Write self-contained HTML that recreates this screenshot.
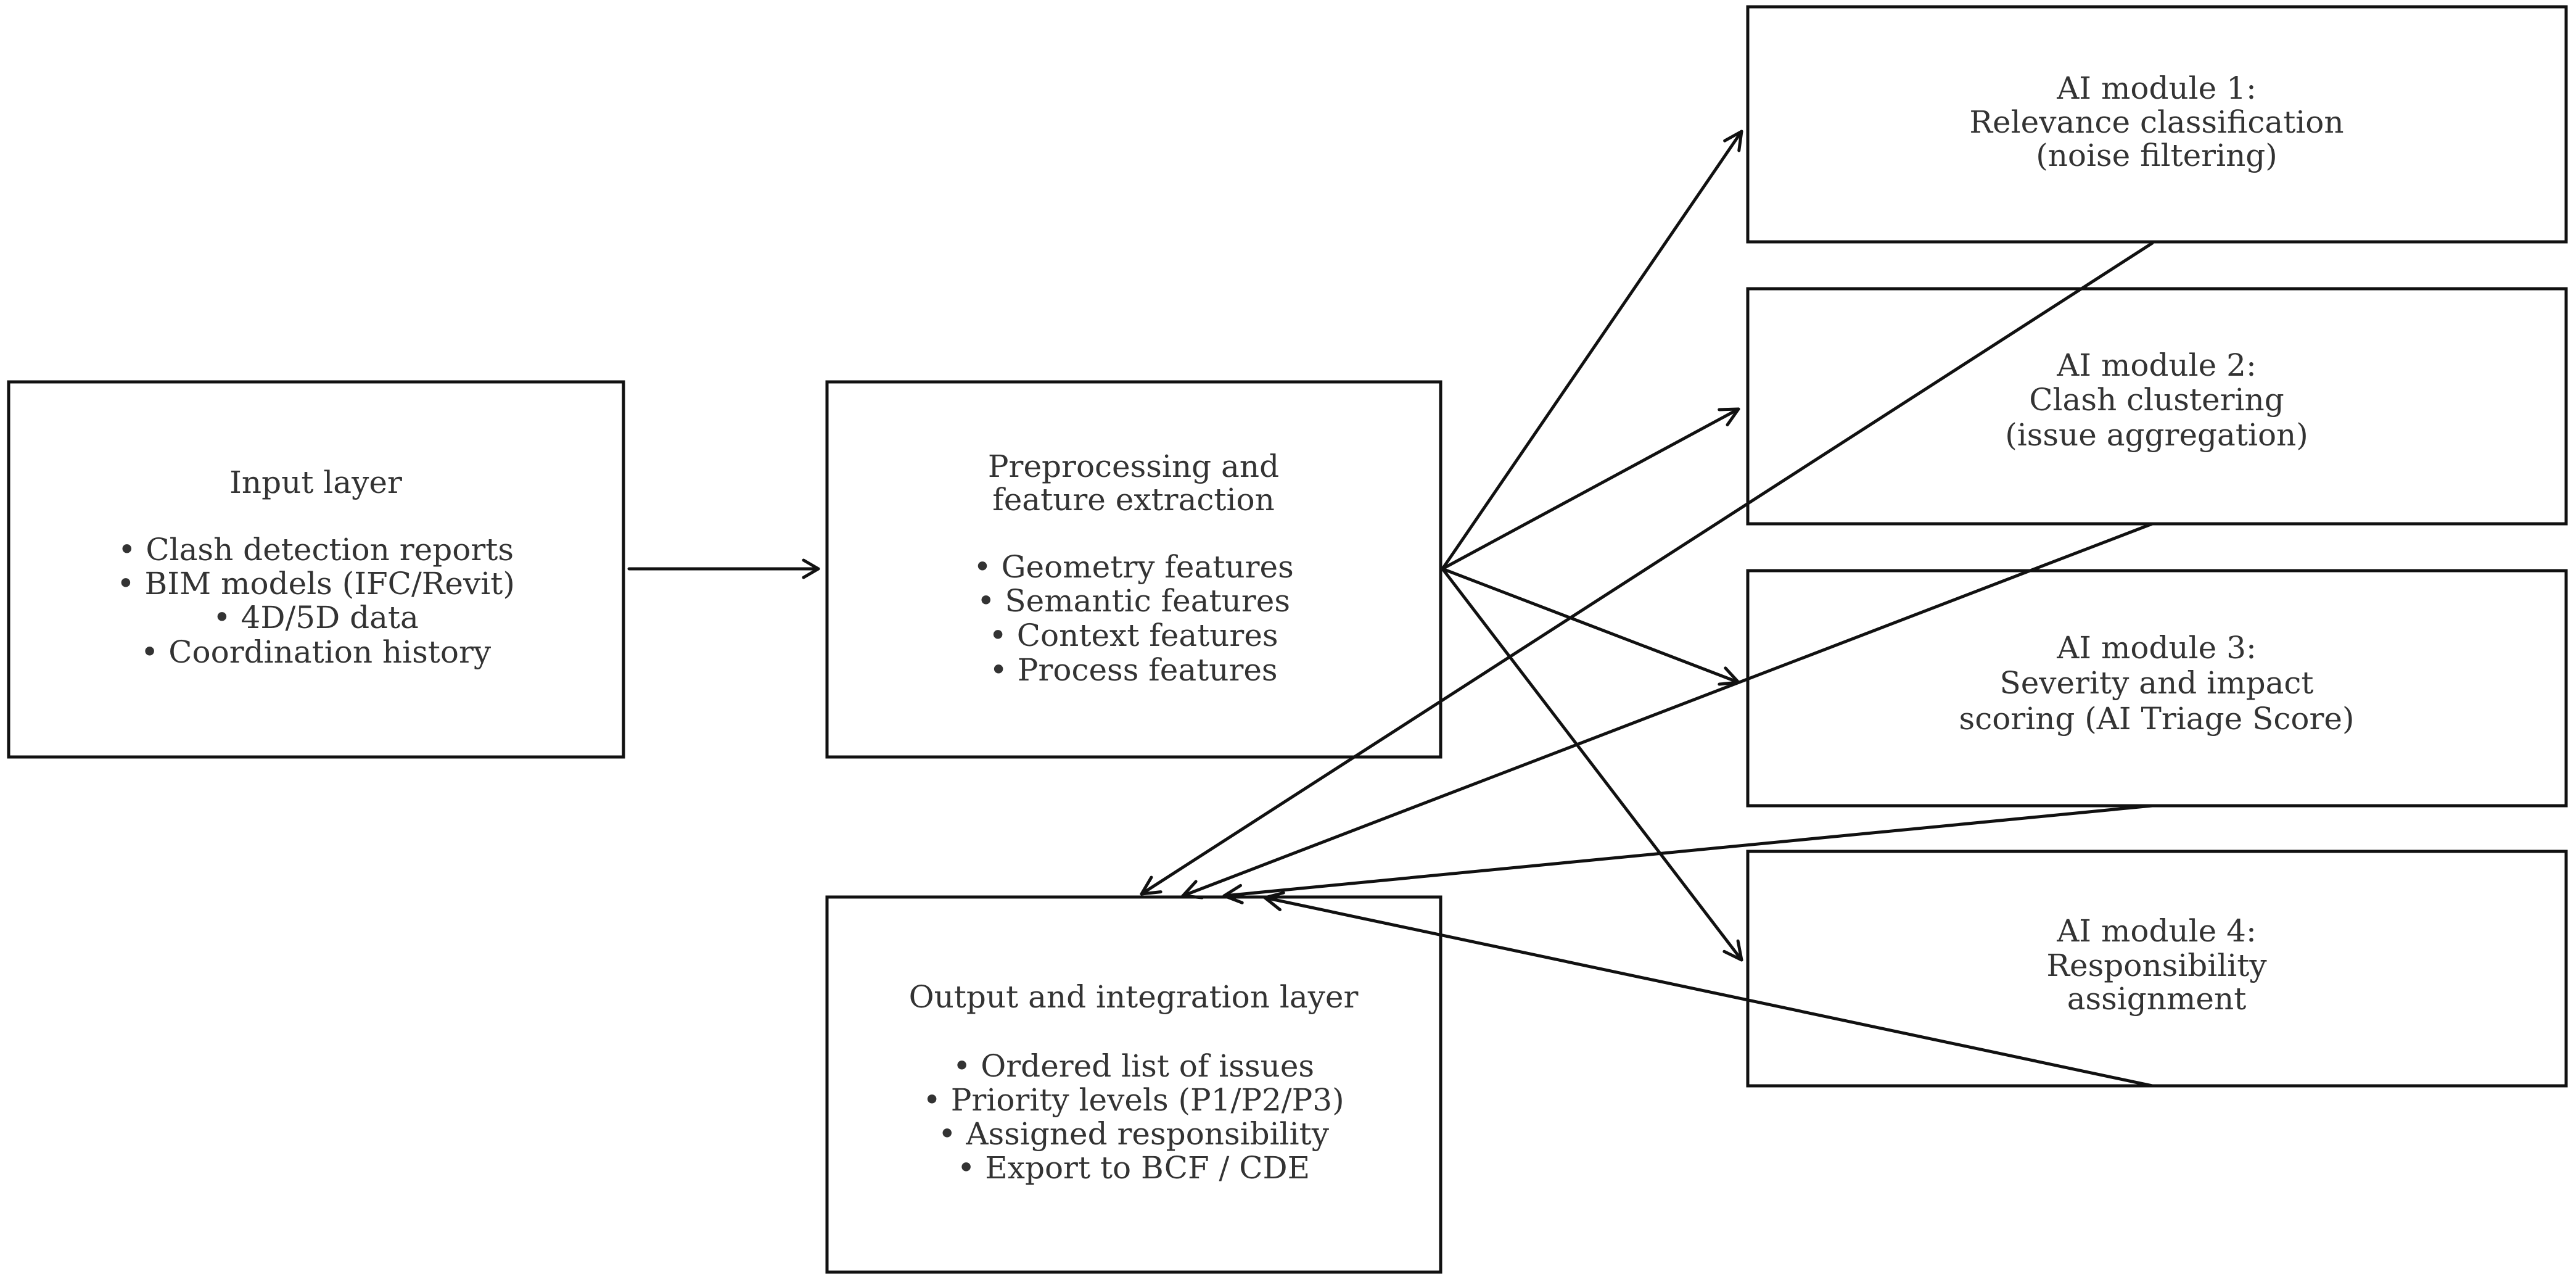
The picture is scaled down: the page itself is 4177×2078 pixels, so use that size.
<!DOCTYPE html>
<html><head><meta charset="utf-8"><style>
html,body{margin:0;padding:0;background:#fff}
svg{display:block}
text{font-family:"DejaVu Serif","Liberation Serif",serif;font-size:50px;fill:#333;text-anchor:middle;dominant-baseline:middle}
</style></head><body>
<svg width="4177" height="2078" viewBox="0 0 4177 2078" xmlns="http://www.w3.org/2000/svg">
<g fill="none" stroke="#111" stroke-width="5">
<rect x="14" y="619" width="997" height="608"/>
<rect x="1341" y="619" width="995" height="608"/>
<rect x="1341" y="1454" width="995" height="608"/>
<rect x="2834" y="11" width="1327" height="381"/>
<rect x="2834" y="468" width="1327" height="381"/>
<rect x="2834" y="925" width="1327" height="381"/>
<rect x="2834" y="1380" width="1327" height="380"/>
</g>
<g fill="none" stroke="#111" stroke-width="5" stroke-linecap="round" stroke-linejoin="round">
<line x1="1020" y1="922" x2="1327" y2="922"/><polyline points="1303,908 1327,922 1303,936"/>
<line x1="2339" y1="922" x2="2824" y2="213"/>
<line x1="2339" y1="922" x2="2819" y2="663"/>
<line x1="2339" y1="922" x2="2819" y2="1106"/>
<line x1="2339" y1="922" x2="2824" y2="1556"/>
<line x1="3490" y1="394" x2="1851" y2="1449"/>
<line x1="3490" y1="849" x2="1918" y2="1452"/>
<line x1="3490" y1="1306" x2="1985" y2="1452"/>
<line x1="3490" y1="1760" x2="2051" y2="1455"/>
</g>
<g fill="none" stroke="#111" stroke-width="5" stroke-linecap="round" stroke-linejoin="round" id="heads"></g>
<script>
(function(){
var g=document.getElementById('heads');
var L=[[2339,922,2824,213],[2339,922,2819,663],[2339,922,2819,1106],[2339,922,2824,1556],
[3490,394,1851,1449],[3490,849,1918,1452],[3490,1306,1985,1452],[3490,1760,2051,1455]];
L.forEach(function(l){
var dx=l[2]-l[0],dy=l[3]-l[1],d=Math.hypot(dx,dy),ux=dx/d,uy=dy/d,s=28,w=14;
var bx=l[2]-ux*s,by=l[3]-uy*s;
var p=document.createElementNS('http://www.w3.org/2000/svg','polyline');
p.setAttribute('points',(bx-uy*w)+','+(by+ux*w)+' '+l[2]+','+l[3]+' '+(bx+uy*w)+','+(by-ux*w));
g.appendChild(p);});
})();
</script>
<text x="512" y="786">Input layer</text>
<text x="512" y="895">• Clash detection reports</text>
<text x="512" y="950">• BIM models (IFC/Revit)</text>
<text x="512" y="1005">• 4D/5D data</text>
<text x="512" y="1061">• Coordination history</text>

<text x="1838" y="760">Preprocessing and</text>
<text x="1838" y="814">feature extraction</text>
<text x="1838" y="923">• Geometry features</text>
<text x="1838" y="978">• Semantic features</text>
<text x="1838" y="1034">• Context features</text>
<text x="1838" y="1090">• Process features</text>

<text x="1838" y="1620">Output and integration layer</text>
<text x="1838" y="1732">• Ordered list of issues</text>
<text x="1838" y="1787">• Priority levels (P1/P2/P3)</text>
<text x="1838" y="1842">• Assigned responsibility</text>
<text x="1838" y="1897">• Export to BCF / CDE</text>

<text x="3497" y="147">AI module 1:</text>
<text x="3497" y="202">Relevance classification</text>
<text x="3497" y="256">(noise filtering)</text>

<text x="3497" y="596">AI module 2:</text>
<text x="3497" y="652">Clash clustering</text>
<text x="3497" y="709">(issue aggregation)</text>

<text x="3497" y="1054">AI module 3:</text>
<text x="3497" y="1111">Severity and impact</text>
<text x="3497" y="1169">scoring (AI Triage Score)</text>

<text x="3497" y="1513">AI module 4:</text>
<text x="3497" y="1569">Responsibility</text>
<text x="3497" y="1623">assignment</text>
</svg>
</body></html>
